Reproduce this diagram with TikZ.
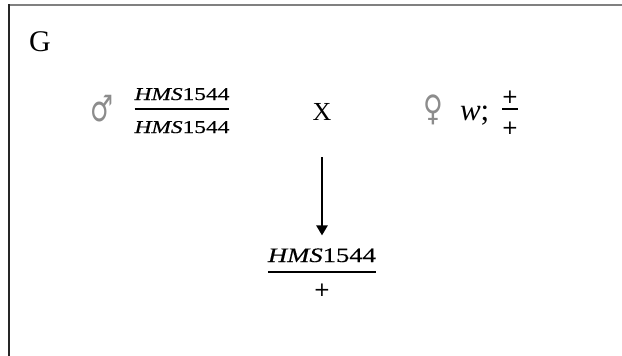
\documentclass[tikz,border=0pt]{standalone}
\usepackage{fontspec}
\setmainfont{Liberation Serif}
\newfontfamily\genefont[FakeStretch=1.3,FakeBold=0.4]{Liberation Serif}
\newfontfamily\symfont{DejaVu Sans}
\usetikzlibrary{arrows.meta}

\begin{document}
\begin{tikzpicture}[x=1pt,y=-1pt,
  every node/.style={inner sep=0pt, outer sep=0pt},
  label/.style={font=\fontsize{30}{32}\selectfont},
  cross/.style={font=\fontsize{26}{28}\selectfont},
  gene/.style={font=\genefont\fontsize{18}{20}\selectfont},
  genebig/.style={font=\genefont\fontsize{20.5}{22}\selectfont},
  sex/.style={font=\symfont\fontsize{27}{30}\selectfont, text=black!45},
  allele/.style={font=\fontsize{31}{32}\selectfont},
  plus/.style={font=\symfont\fontsize{20}{22}\selectfont},
  barline/.style={line width=1.6pt},
  arr/.style={line width=2.7pt, -{Triangle[width=11pt,length=10pt]}}]
\useasboundingbox (0,0) rectangle (622,356);

% frame: top and left edges only
\draw[black!50, line width=2pt] (8,5) -- (622,5);
\draw[black!85, line width=2pt] (9,4) -- (9,356);

% panel letter
\node[label] (panel) at (40,42) {G};

% male parent
\node[sex] (male) at (102,109) {\scalebox{0.95}[1.35]{♂}};
\node[gene, anchor=base] (mnum) at (182,100) {\textit{HMS}1544};
\node[gene, anchor=base] (mden) at (182,133) {\textit{HMS}1544};
\draw[barline] (mnum.west |- 0,109) -- (mnum.east |- 0,109);

% cross sign
\node[cross, anchor=base] (cross) at (322,120) {X};

% female parent
\node[sex] (female) at (433,110) {\scalebox{1}[1.3]{♀}};
\node[allele, anchor=base west] (wgene) at (460,120) {\textit{w};};
\node[plus] (fnum) at (510,97) {+};
\node[plus] (fden) at (510,128) {+};
\draw[barline] (502,109) -- (518,109);

% offspring
\node[genebig, anchor=base] (cnum) at (322,262) {\textit{HMS}1544};
\node[plus] (cden) at (322,290) {+};
\draw[barline] (cnum.west |- 0,272) -- (cnum.east |- 0,272);

% cross arrow
\draw[arr, shorten <=37pt, shorten >=13pt] (cross.south) -- (cnum.north);
\end{tikzpicture}
\end{document}
